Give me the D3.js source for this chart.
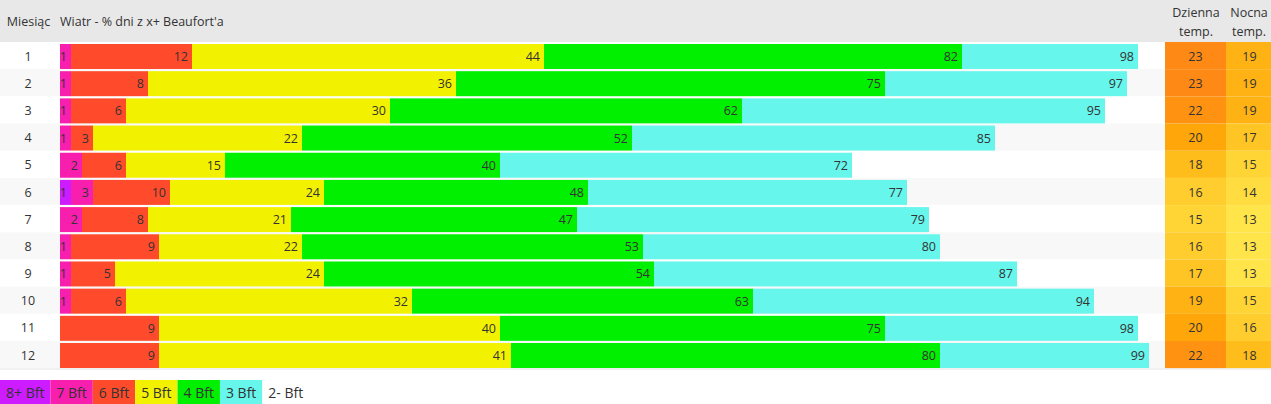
<!DOCTYPE html>
<html>
<head>
<meta charset="utf-8">
<script src="https://cdn.jsdelivr.net/npm/d3@7"></script>
<style>
html,body{margin:0;padding:0;background:#fff;}
svg{display:block;font-family:"Open Sans",sans-serif;}
</style>
</head>
<body>
<svg id="chart" width="1271" height="404"></svg>
<script>
const months = [1,2,3,4,5,6,7,8,9,10,11,12];
const bft8 = [0,0,0,0,0,1,0,0,0,0,0,0];
const bft7 = [1,1,1,1,2,3,2,1,1,1,0,0];
const bft6 = [12,8,6,3,6,10,8,9,5,6,9,9];
const bft5 = [44,36,30,22,15,24,21,22,24,32,40,41];
const bft4 = [82,75,62,52,40,48,47,53,54,63,75,80];
const bft3 = [98,97,95,85,72,77,79,80,87,94,98,99];
const dayTemp = [23,23,22,20,18,16,15,16,17,19,20,22];
const nightTemp = [19,19,19,17,15,14,13,13,13,15,16,18];
const seriesNames = ["8+ Bft","7 Bft","6 Bft","5 Bft","4 Bft","3 Bft","2- Bft"];
const seriesColors = ["#cc1cff","#f81fae","#ff4b2b","#f2f200","#00f000","#66f6ec","#ffffff"];
const headerMonth = "Miesiąc";
const headerWind = "Wiatr - % dni z x+ Beaufort'a";
const headerDay = ["Dzienna","temp."];
const headerNight = ["Nocna","temp."];

const svg = d3.select("#chart");
const W = 1271;
const series = [bft8,bft7,bft6,bft5,bft4,bft3];

const x = d3.scaleLinear().domain([0,100]).range([60,1160]);
const y = d3.scaleBand().domain(months).range([42,368.2]).paddingInner(0);
const tempColor = d3.scaleLinear().domain([13,15,18,20,23])
  .range(["#ffe44a","#ffd535","#ffbd1c","#ffa60a","#ff8915"]);

// header
svg.append("rect").attr("x",0).attr("y",0).attr("width",W).attr("height",42).attr("fill","#e8e8e8");
const txt = "#333";
svg.append("text").attr("x",28.5).attr("y",21).attr("text-anchor","middle").attr("dominant-baseline","central")
  .attr("font-size",12.5).attr("fill",txt).text(headerMonth);
svg.append("text").attr("x",60).attr("y",21).attr("dominant-baseline","central")
  .attr("font-size",12.5).attr("fill",txt).text(headerWind);
headerDay.forEach((t,i)=>svg.append("text").attr("x",1196).attr("y",12+i*19).attr("text-anchor","middle")
  .attr("dominant-baseline","central").attr("font-size",12.5).attr("fill",txt).text(t));
headerNight.forEach((t,i)=>svg.append("text").attr("x",1249).attr("y",12+i*19).attr("text-anchor","middle")
  .attr("dominant-baseline","central").attr("font-size",12.5).attr("fill",txt).text(t));

// rows
const rows = svg.append("g").selectAll("g").data(months).join("g");
rows.append("rect").attr("x",0).attr("y",d=>y(d)).attr("width",W).attr("height",y.bandwidth())
  .attr("fill",(d,i)=>i%2===0?"#ffffff":"#f8f8f8");
rows.append("text").attr("x",28).attr("y",d=>y(d)+y.bandwidth()/2+0.5).attr("text-anchor","middle")
  .attr("dominant-baseline","central").attr("font-size",12.5).attr("fill",txt).text(d=>d);

// bar segments
months.forEach((m,i)=>{
  let prev = 0;
  series.forEach((s,k)=>{
    const v = s[i];
    if (v > prev) {
      svg.append("rect").attr("x",x(prev)).attr("y",y(m)+2).attr("width",x(v)-x(prev)).attr("height",25)
        .attr("fill",seriesColors[k]);
      svg.append("text").attr("x",x(v)-4).attr("y",y(m)+14.5).attr("text-anchor","end")
        .attr("dominant-baseline","central").attr("font-size",12.5).attr("fill",txt).text(v);
      prev = v;
    }
  });
});

// temperature columns
const cols = [{x0:1165,x1:1226,vals:dayTemp},{x0:1226,x1:1271,vals:nightTemp}];
cols.forEach(c=>{
  months.forEach((m,i)=>{
    svg.append("rect").attr("x",c.x0).attr("y",y(m)).attr("width",c.x1-c.x0).attr("height",y.bandwidth())
      .attr("fill",tempColor(c.vals[i]));
    svg.append("text").attr("x",(c.x0+c.x1)/2+(c.x1===1271?1:0)).attr("y",y(m)+y.bandwidth()/2+0.5)
      .attr("text-anchor","middle").attr("dominant-baseline","central").attr("font-size",12.5)
      .attr("fill",txt).text(c.vals[i]);
  });
});

svg.append("line").attr("x1",0).attr("x2",W).attr("y1",369).attr("y2",369).attr("stroke","#e4e4e4");

// legend
let lx = 0;
seriesNames.forEach((n,k)=>{
  const g = svg.append("g");
  const t = g.append("text").attr("x",lx+6).attr("y",392.5).attr("dominant-baseline","central")
    .attr("font-size",14).attr("fill",txt).text(n);
  const w = t.node().getComputedTextLength()+12;
  g.insert("rect","text").attr("x",lx).attr("y",380).attr("width",w).attr("height",24).attr("fill",seriesColors[k]);
  lx += w;
});
</script>
</body>
</html>
